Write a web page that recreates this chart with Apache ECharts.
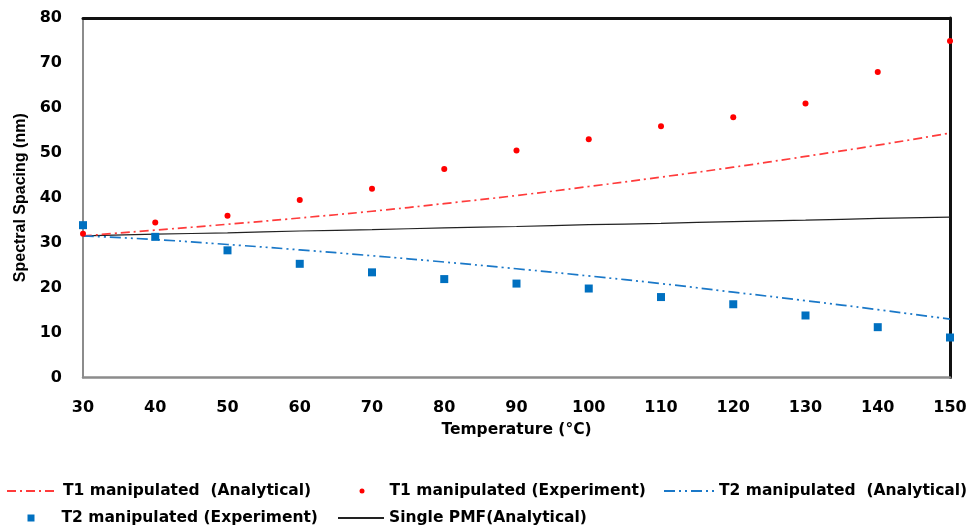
<!DOCTYPE html>
<html>
<head>
<meta charset="utf-8">
<script src="https://cdn.jsdelivr.net/npm/echarts@6/dist/echarts.min.js"></script>
<style>html,body{margin:0;padding:0;background:#fff;}#chart{width:973px;height:531px;}</style>
</head>
<body>
<div id="chart"></div>
<script>
const temps = [30, 40, 50, 60, 70, 80, 90, 100, 110, 120, 130, 140, 150];
const t1Analytical = [31.5, 32.8, 34.1, 35.5, 37.0, 38.7, 40.5, 42.5, 44.6, 46.8, 49.2, 51.7, 54.4];
const t1Experiment = [32.0, 34.5, 36.0, 39.5, 42.0, 46.4, 50.5, 53.0, 55.9, 57.9, 61.0, 68.0, 74.9];
const t2Analytical = [31.5, 30.7, 29.6, 28.4, 27.1, 25.7, 24.2, 22.6, 20.9, 19.0, 17.1, 15.1, 13.0];
const t2Experiment = [33.9, 31.3, 28.3, 25.3, 23.4, 21.9, 20.9, 19.8, 17.9, 16.3, 13.8, 11.2, 8.9];
const singlePMF = [31.5, 31.9, 32.2, 32.6, 32.9, 33.3, 33.6, 34.0, 34.3, 34.7, 35.0, 35.4, 35.7];
const xTicks = { min: 30, max: 150, interval: 10 };
const yTicks = { min: 0, max: 80, interval: 10 };
const names = ['T1 manipulated  (Analytical)', 'T1 manipulated (Experiment)', 'T2 manipulated  (Analytical)', 'T2 manipulated (Experiment)', 'Single PMF(Analytical)'];

const pairs = arr => temps.map((t, i) => [t, arr[i]]);
const FONT = 'DejaVu Sans';
const lt = (padLeft) => ({ fontFamily: FONT, fontWeight: 'bold', fontSize: 15.5, color: '#000', padding: [0, 0, 0, padLeft] });
const hiddenSym = { color: 'rgba(0,0,0,0)', borderWidth: 0, opacity: 0 };

const chart = echarts.init(document.getElementById('chart'), null, { renderer: 'canvas' });
chart.setOption({
  animation: false,
  backgroundColor: '#fff',
  grid: { left: 83, right: 23, top: 18, bottom: 153.5, containLabel: false },
  legend: [
    { data: [names[0]], padding: 0, left: 6, top: 483, itemWidth: 50, itemHeight: 14, itemStyle: hiddenSym, textStyle: lt(1) },
    { data: [names[1]], padding: 0, left: 359.5, top: 483, itemWidth: 5, itemHeight: 5, symbolKeepAspect: true, itemStyle: { opacity: 1 }, textStyle: lt(20) },
    { data: [names[2]], padding: 0, left: 663, top: 483, itemWidth: 50, itemHeight: 14, itemStyle: hiddenSym, textStyle: lt(0) },
    { data: [names[3]], padding: 0, left: 27.5, top: 510, itemWidth: 7, itemHeight: 7, symbolKeepAspect: true, itemStyle: { opacity: 1 }, textStyle: lt(22) },
    { data: [names[4]], padding: 0, left: 337, top: 510, itemWidth: 46, itemHeight: 14, itemStyle: hiddenSym, textStyle: lt(0) }
  ],
  xAxis: [{
    type: 'value', min: xTicks.min, max: xTicks.max, interval: xTicks.interval,
    name: 'Temperature (°C)', nameLocation: 'middle', nameGap: 44,
    nameTextStyle: { fontFamily: FONT, fontWeight: 'bold', fontSize: 15.5, color: '#000' },
    axisLine: { show: true, onZero: false, lineStyle: { color: '#8c8c8c', width: 2.5 } },
    axisTick: { show: false },
    splitLine: { show: false },
    axisLabel: { margin: 22, fontFamily: FONT, fontWeight: 'bold', fontSize: 16, color: '#000' }
  }, {
    type: 'value', position: 'top', min: xTicks.min, max: xTicks.max,
    axisLine: { show: true, onZero: false, lineStyle: { color: '#111', width: 3 } },
    axisTick: { show: false }, axisLabel: { show: false }, splitLine: { show: false }
  }],
  yAxis: [{
    type: 'value', min: yTicks.min, max: yTicks.max, interval: yTicks.interval,
    name: 'Spectral Spacing (nm)', nameLocation: 'middle', nameGap: 53, nameRotate: 90,
    nameTextStyle: { fontFamily: 'Liberation Sans', fontWeight: 'bold', fontSize: 16, color: '#000' },
    axisLine: { show: true, onZero: false, lineStyle: { color: '#8c8c8c', width: 2 } },
    axisTick: { show: false },
    splitLine: { show: false },
    axisLabel: { margin: 21, fontFamily: FONT, fontWeight: 'bold', fontSize: 16, color: '#000' }
  }, {
    type: 'value', position: 'right', min: yTicks.min, max: yTicks.max,
    axisLine: { show: true, onZero: false, lineStyle: { color: '#111', width: 3 } },
    axisTick: { show: false }, axisLabel: { show: false }, splitLine: { show: false }
  }],
  series: [
    {
      name: names[0], type: 'line', data: pairs(t1Analytical), smooth: true, symbol: 'none', showSymbol: false,
      lineStyle: { color: '#ff3b3b', width: 1.7, type: [9, 4, 2, 4] }, itemStyle: { color: '#ff3b3b' }, z: 3
    },
    {
      name: names[1], type: 'scatter', data: pairs(t1Experiment), symbol: 'circle', symbolSize: 6,
      itemStyle: { color: '#ff0000', opacity: 1 }, clip: false, z: 5
    },
    {
      name: names[2], type: 'line', data: pairs(t2Analytical), smooth: true, symbol: 'none', showSymbol: false,
      lineStyle: { color: '#1a78c8', width: 1.7, type: [11, 4, 2, 4, 2, 4] }, itemStyle: { color: '#1a78c8' }, z: 3
    },
    {
      name: names[3], type: 'scatter', data: pairs(t2Experiment), symbol: 'rect', symbolSize: 8,
      itemStyle: { color: '#0070c0', opacity: 1 }, clip: false, z: 5
    },
    {
      name: names[4], type: 'line', data: pairs(singlePMF), smooth: true, symbol: 'none', showSymbol: false,
      lineStyle: { color: '#222', width: 1.2, type: 'solid' }, itemStyle: { color: '#222' }, z: 2
    }
  ]
});
</script>
</body>
</html>
